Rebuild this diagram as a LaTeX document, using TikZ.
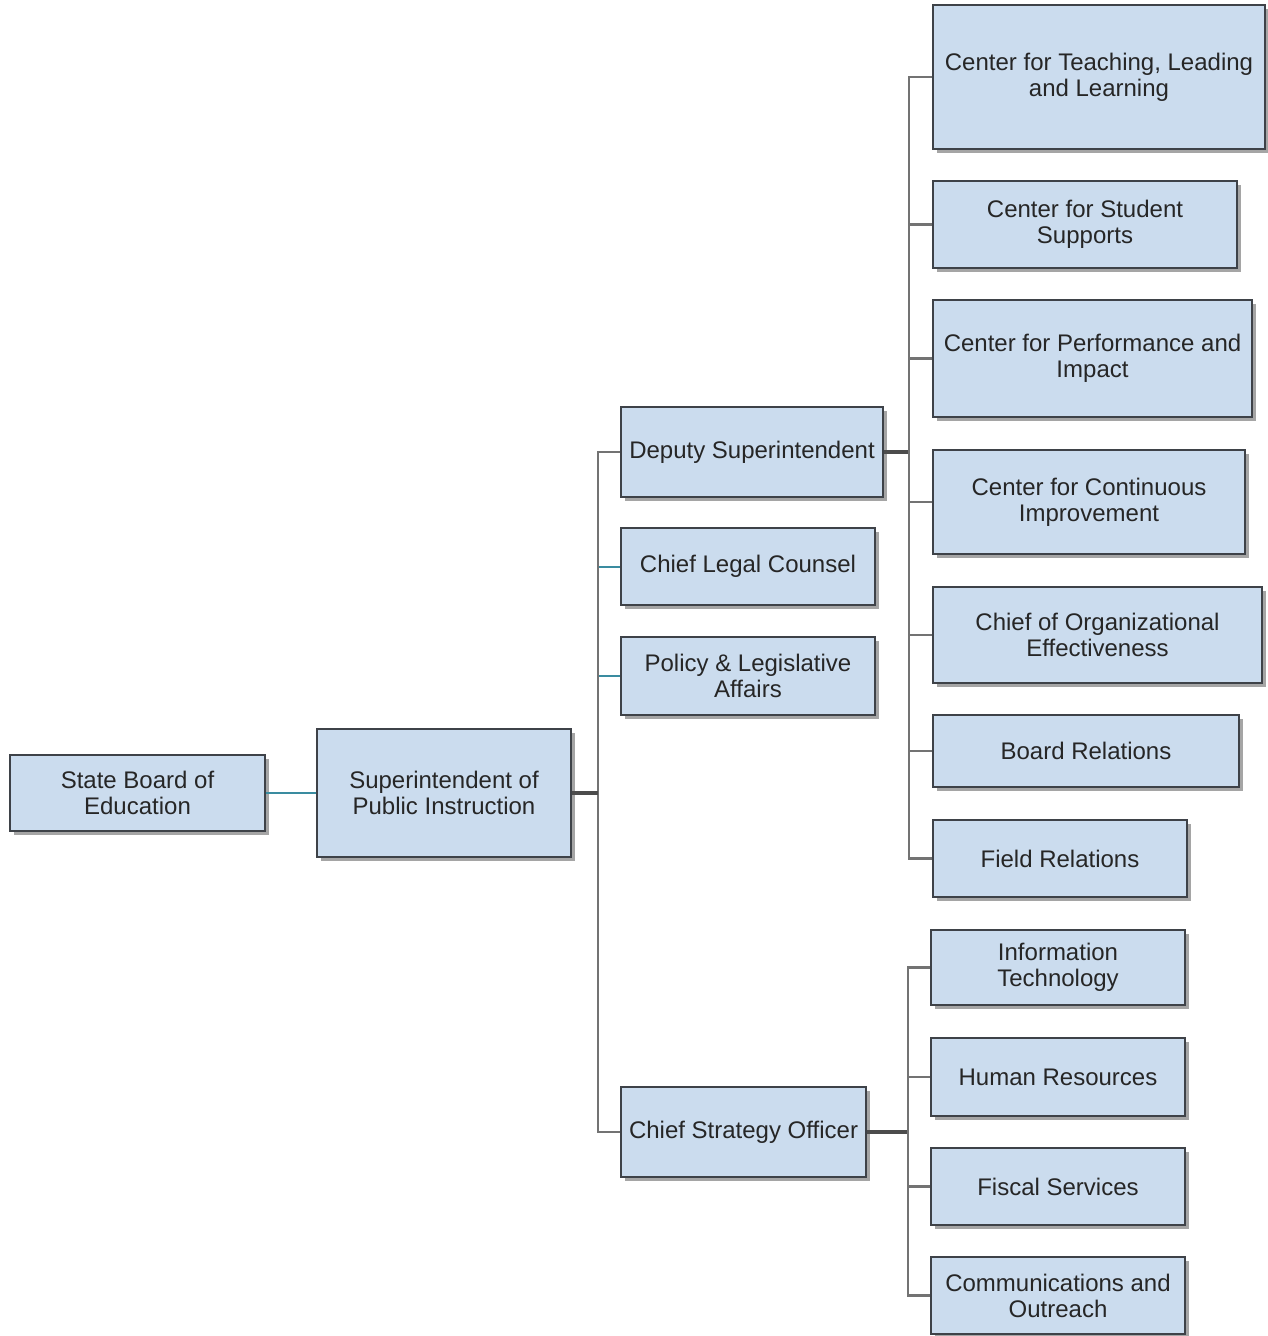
\documentclass[tikz,border=0pt]{standalone}
\usepackage{fontspec}
\setmainfont{Liberation Sans}
\usetikzlibrary{shadows,calc}

\definecolor{boxblue}{RGB}{203,220,238}
\definecolor{boxline}{RGB}{62,66,72}
\definecolor{wire}{RGB}{115,115,115}
\definecolor{teal}{RGB}{58,140,160}

\tikzset{
  unit/.style={draw=boxline, fill=boxblue, line width=1.4pt, align=center,
    inner sep=0pt, font=\fontsize{24}{26}\selectfont, text=black!85,
    drop shadow={shadow xshift=4pt, shadow yshift=-4pt, fill=black!70, opacity=.5}},
  link/.style={draw=wire, line width=2.4pt},
  tlink/.style={draw=teal, line width=2pt},
  trunk/.style={draw=black!70, line width=4pt}
}

\begin{document}
\begin{tikzpicture}[x=1pt, y=-1pt]
        \useasboundingbox (0,0) rectangle (1267,1336);
        % top of the chart
        \node[unit, minimum width=255pt, minimum height=76pt] (sbe) at (137.5,793) {State Board of\\Education};
        \node[unit, minimum width=254pt, minimum height=128pt] (spi) at (444,793) {Superintendent of\\Public Instruction};
        % reports to the superintendent
        \node[unit, minimum width=262pt, minimum height=90pt] (deputy) at (752,452) {Deputy Superintendent};
        \node[unit, minimum width=254pt, minimum height=77pt] (legal) at (748,566.5) {Chief Legal Counsel};
        \node[unit, minimum width=254pt, minimum height=78pt] (policy) at (748,676) {Policy \& Legislative\\Affairs};
        \node[unit, minimum width=245pt, minimum height=90pt] (cso) at (743.5,1132) {Chief Strategy Officer};
        % under the deputy
        \node[unit, minimum width=332pt, minimum height=144pt] (ctll) at (1099,77) {Center for Teaching, Leading\\and Learning};
        \node[unit, minimum width=304pt, minimum height=87pt] (css) at (1085,224.5) {Center for Student\\Supports};
        \node[unit, minimum width=319pt, minimum height=117pt] (cpi) at (1092.5,358.5) {Center for Performance and\\Impact};
        \node[unit, minimum width=312pt, minimum height=104pt] (cci) at (1089,502) {Center for Continuous\\Improvement};
        \node[unit, minimum width=329pt, minimum height=96pt] (coe) at (1097.5,635) {Chief of Organizational\\Effectiveness};
        \node[unit, minimum width=306pt, minimum height=72pt] (board) at (1086,751) {Board Relations};
        \node[unit, minimum width=254pt, minimum height=77pt] (field) at (1060,858.5) {Field Relations};
        % under the strategy officer
        \node[unit, minimum width=254pt, minimum height=75pt] (it) at (1058,967.5) {Information\\Technology};
        \node[unit, minimum width=254pt, minimum height=78pt] (hr) at (1058,1077) {Human Resources};
        \node[unit, minimum width=254pt, minimum height=77pt] (fiscal) at (1058,1186.5) {Fiscal Services};
        \node[unit, minimum width=254pt, minimum height=77pt] (comms) at (1058,1295.5) {Communications and\\Outreach};

        % wires (teal stubs first, the grey bus goes over them)
        \draw[tlink] (sbe.east) -- (spi.west);
        \coordinate (sbus) at ($(spi.east)+(26,0)$);
        \draw[tlink] (sbus) |- (legal.west);
        \draw[tlink] (sbus) |- (policy.west);
        \draw[link] (sbus) |- (deputy.west);
        \draw[link] (sbus) |- (cso.west);
        \draw[trunk] (spi.east) -- (sbus);
        \draw[trunk] (deputy.east) -- ++(25,0) coordinate (dbus);
        \foreach \n in {ctll,css,cpi,cci,coe,board,field}
          \draw[link] (dbus) |- (\n.west);
        \draw[trunk] (cso.east) -- ++(41,0) coordinate (cbus);
        \foreach \n in {it,hr,fiscal,comms}
          \draw[link] (cbus) |- (\n.west);
\end{tikzpicture}
\end{document}
